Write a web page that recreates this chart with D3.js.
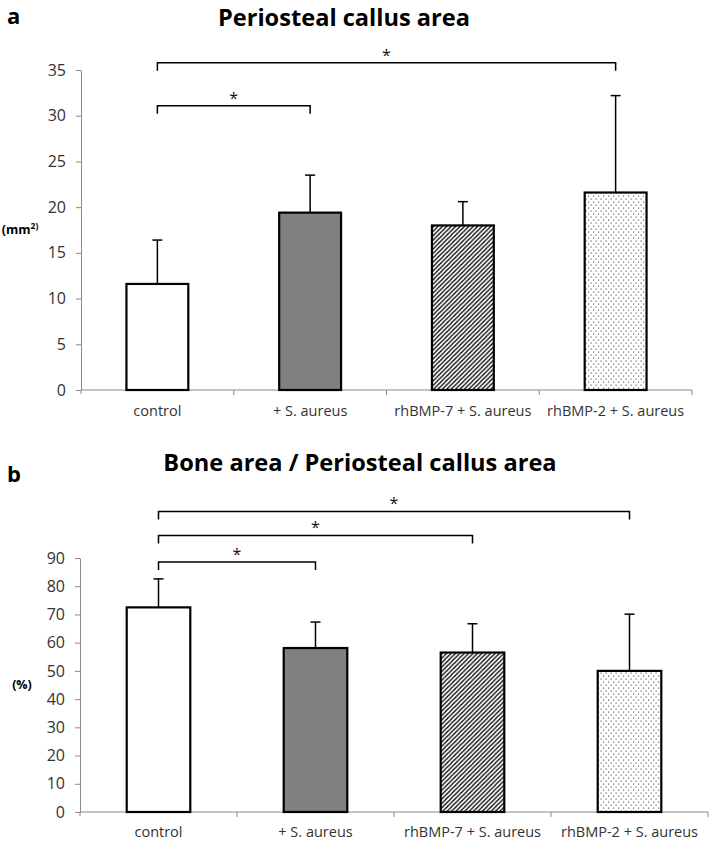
<!DOCTYPE html>
<html>
<head>
<meta charset="utf-8">
<script src="https://cdn.jsdelivr.net/npm/d3@7"></script>
<style>
  html, body { margin: 0; padding: 0; background: #fff; }
  svg { display: block; }
  text { font-family: "Open Sans", sans-serif; }
</style>
</head>
<body>
<script>
// ---------- data ----------
const categories = ["control", "+ S. aureus", "rhBMP-7 + S. aureus", "rhBMP-2 + S. aureus"];
const fills = ["white", "gray", "hatch", "dots"];

const callusMean = [11.6, 19.4, 18.0, 21.6];
const callusSD   = [4.8, 4.1, 2.6, 10.6];
const callusTicks = [0, 5, 10, 15, 20, 25, 30, 35];
const callusSig = [ {from: 0, to: 3, level: 35.8}, {from: 0, to: 1, level: 31.1} ];

const boneMean = [72.5, 58.1, 56.5, 50.0];
const boneSD   = [10.1, 9.2, 10.2, 20.1];
const boneTicks = [0, 10, 20, 30, 40, 50, 60, 70, 80, 90];
const boneSig = [ {from: 0, to: 3, level: 106.5}, {from: 0, to: 2, level: 98.0}, {from: 0, to: 1, level: 88.6} ];

// ---------- svg ----------
const W = 709, H = 841;
const svg = d3.select("body").append("svg").attr("width", W).attr("height", H);

const defs = svg.append("defs");
const hatch = defs.append("pattern").attr("id", "hatch").attr("patternUnits", "userSpaceOnUse")
  .attr("width", 4.4).attr("height", 4.4);
hatch.append("rect").attr("width", 4.4).attr("height", 4.4).attr("fill", "white");
hatch.append("path").attr("d", "M-1.1,1.1 L1.1,-1.1 M0,4.4 L4.4,0 M3.3,5.5 L5.5,3.3")
  .attr("stroke", "black").attr("stroke-width", 1.3);
const dots = defs.append("pattern").attr("id", "dots").attr("patternUnits", "userSpaceOnUse")
  .attr("width", 5).attr("height", 6);
dots.append("rect").attr("width", 5).attr("height", 6).attr("fill", "white");
dots.append("rect").attr("x", 0.5).attr("y", 0.5).attr("width", 1.2).attr("height", 1.2).attr("fill", "#666");
dots.append("rect").attr("x", 3).attr("y", 3.5).attr("width", 1.2).attr("height", 1.2).attr("fill", "#666");

function fillFor(f) {
  if (f === "white") return "white";
  if (f === "gray") return "#808080";
  return "url(#" + f + ")";
}

function panel(opt) {
  const g = svg.append("g");
  const x = d3.scaleBand().domain(categories).range(opt.xRange).padding(0);
  const y = d3.scaleLinear().domain([0, opt.max]).range(opt.yRange);
  const bw = x.bandwidth() * 0.405;

  // panel letter & title
  g.append("text").attr("x", 7).attr("y", opt.letterY).attr("font-size", 22)
    .attr("font-weight", "bold").text(opt.letter);
  g.append("text").attr("x", opt.titleX).attr("y", opt.titleY).attr("text-anchor", "middle")
    .attr("font-size", 23.6).attr("font-weight", "bold").text(opt.title);

  // y axis
  const ya = g.append("g").attr("transform", `translate(${opt.xRange[0]},0)`)
    .call(d3.axisLeft(y).tickValues(opt.ticks).tickSize(5).tickPadding(10).tickSizeOuter(0));
  ya.select(".domain").attr("stroke", "#8a8a8a");
  ya.selectAll(".tick line").attr("stroke", "#8a8a8a");
  ya.selectAll(".tick text").attr("font-size", 16).attr("fill", "#333")
    .attr("font-family", "'Open Sans', sans-serif");

  // x axis line and ticks at band boundaries
  const y0 = y(0);
  g.append("line").attr("x1", opt.xRange[0]).attr("x2", opt.xRange[1])
    .attr("y1", y0).attr("y2", y0).attr("stroke", "#8a8a8a");
  g.append("line").attr("x1", opt.xRange[0]).attr("x2", opt.xRange[0])
    .attr("y1", y0).attr("y2", y0 + 4).attr("stroke", "#8a8a8a");
  categories.forEach((c, i) => {
    const xe = x(c) + x.bandwidth();
    g.append("line").attr("x1", xe).attr("x2", xe).attr("y1", y0).attr("y2", y0 + 5)
      .attr("stroke", "#8a8a8a");
    g.append("text").attr("x", x(c) + x.bandwidth() / 2).attr("y", y0 + opt.labelOffset)
      .attr("text-anchor", "middle").attr("font-size", 14.5).attr("fill", "#333").text(c);
  });

  // y label
  const yl = g.append("text").attr("x", opt.ylabelX).attr("y", (opt.yRange[0] + opt.yRange[1]) / 2 + 4)
    .attr("text-anchor", "middle").attr("font-size", 12.5).attr("font-weight", "bold");
  if (opt.ylabelSup) {
    yl.append("tspan").text(opt.ylabel);
    yl.append("tspan").attr("font-size", 8.5).attr("dy", -5).text(opt.ylabelSup);
  } else {
    yl.text(opt.ylabel);
  }

  // error bars
  categories.forEach((c, i) => {
    const cx = x(c) + x.bandwidth() / 2;
    g.append("line").attr("x1", cx).attr("x2", cx)
      .attr("y1", y(opt.mean[i])).attr("y2", y(opt.mean[i] + opt.sd[i]))
      .attr("stroke", "black").attr("stroke-width", 1.5);
    g.append("line").attr("x1", cx - 5).attr("x2", cx + 5)
      .attr("y1", y(opt.mean[i] + opt.sd[i])).attr("y2", y(opt.mean[i] + opt.sd[i]))
      .attr("stroke", "black").attr("stroke-width", 1.5);
  });

  // bars
  g.selectAll("rect.bar").data(categories).enter().append("rect").attr("class", "bar")
    .attr("x", c => x(c) + x.bandwidth() / 2 - bw / 2)
    .attr("y", (c, i) => y(opt.mean[i]))
    .attr("width", bw)
    .attr("height", (c, i) => y0 - y(opt.mean[i]))
    .attr("fill", (c, i) => fillFor(fills[i]))
    .attr("stroke", "black").attr("stroke-width", 2.2);

  // significance brackets
  opt.sig.forEach(s => {
    const xa = x(categories[s.from]) + x.bandwidth() / 2;
    const xb = x(categories[s.to]) + x.bandwidth() / 2;
    const yy = y(s.level);
    g.append("path").attr("d", `M${xa},${yy + 8}V${yy}H${xb}V${yy + 8}`)
      .attr("fill", "none").attr("stroke", "black").attr("stroke-width", 1.5);
    g.append("text").attr("x", (xa + xb) / 2).attr("y", yy - 2).attr("text-anchor", "middle")
      .attr("font-size", 16).attr("fill", "#111").text("*");
  });
}

panel({
  letter: "a", letterY: 24, title: "Periosteal callus area", titleX: 344, titleY: 26,
  xRange: [81, 692], yRange: [390, 70], max: 35, ticks: callusTicks,
  mean: callusMean, sd: callusSD, sig: callusSig,
  ylabel: "(mm", ylabelSup: "2)", ylabelX: 20, labelOffset: 26
});

panel({
  letter: "b", letterY: 482, title: "Bone area / Periosteal callus area", titleX: 360, titleY: 471,
  xRange: [80, 708], yRange: [812, 558], max: 90, ticks: boneTicks,
  mean: boneMean, sd: boneSD, sig: boneSig,
  ylabel: "(%)", ylabelX: 22, labelOffset: 25
});
</script>
</body>
</html>
